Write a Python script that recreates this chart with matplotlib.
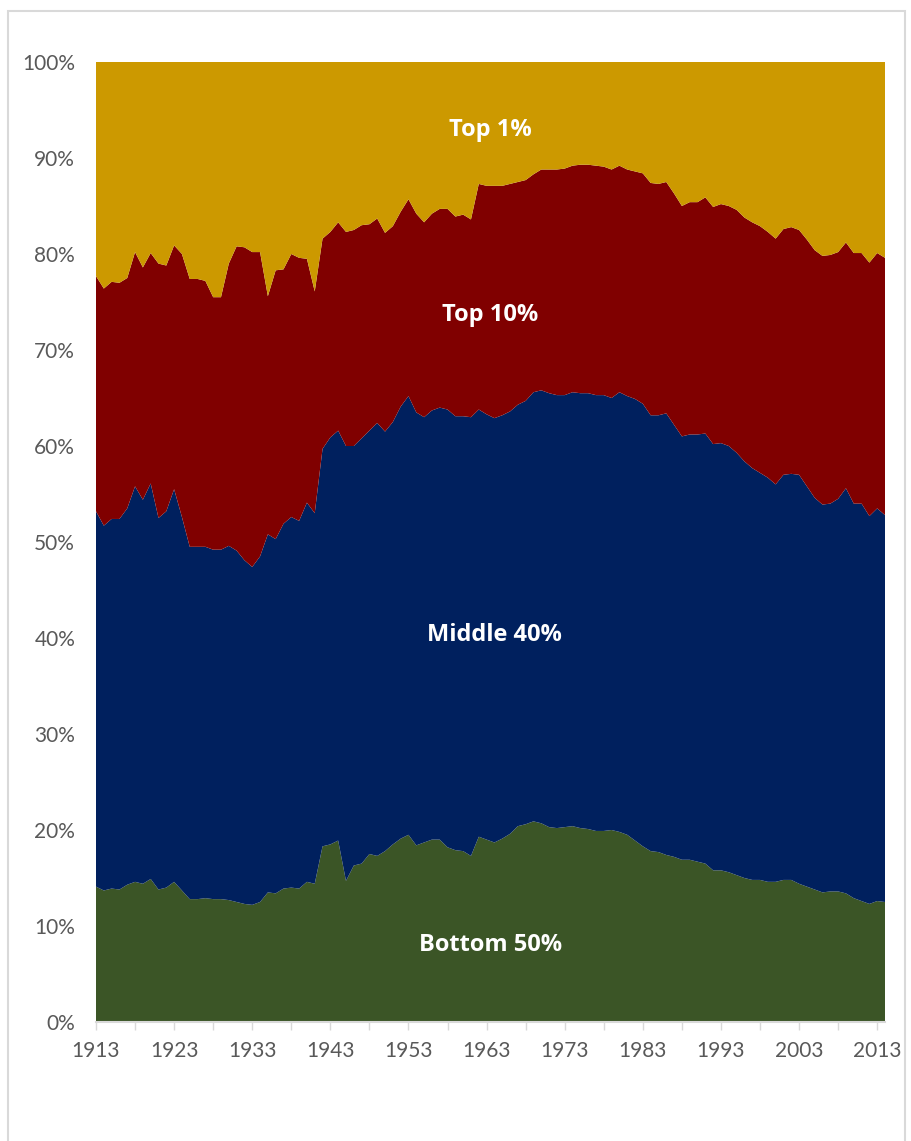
import numpy as np
import matplotlib
matplotlib.use("Agg")
import matplotlib.pyplot as plt
from matplotlib.patches import Rectangle
from matplotlib.ticker import FuncFormatter, MultipleLocator

# shares of income, %
years = list(range(1913, 2015))

bottom50 = [14.1, 13.7, 13.9, 13.8, 14.3, 14.6, 14.4, 14.9, 13.8, 14.0,
            14.6, 13.7, 12.8, 12.8, 12.9, 12.8, 12.8, 12.7, 12.5, 12.3,
            12.2, 12.5, 13.5, 13.4, 13.9, 14.0, 13.9, 14.6, 14.4, 18.3,
            18.5, 18.9, 14.7, 16.3, 16.5, 17.5, 17.3, 17.8, 18.5, 19.1,
            19.5, 18.4, 18.7, 19.0, 19.0, 18.2, 17.9, 17.8, 17.3, 19.3,
            19.0, 18.7, 19.1, 19.6, 20.4, 20.6, 20.9, 20.7, 20.3, 20.2,
            20.3, 20.4, 20.2, 20.1, 19.9, 19.9, 20.0, 19.8, 19.5, 18.9,
            18.3, 17.8, 17.7, 17.4, 17.2, 16.9, 16.9, 16.7, 16.5, 15.8,
            15.8, 15.6, 15.3, 15.0, 14.8, 14.8, 14.6, 14.6, 14.8, 14.8,
            14.4, 14.1, 13.8, 13.5, 13.6, 13.6, 13.4, 12.9, 12.6, 12.3,
            12.6, 12.5]

middle40 = [39.1, 38.0, 38.5, 38.6, 39.2, 41.2, 40.0, 41.2, 38.7, 39.2,
            40.9, 38.9, 36.7, 36.7, 36.6, 36.4, 36.4, 36.9, 36.6, 35.8,
            35.2, 36.0, 37.3, 36.9, 38.0, 38.6, 38.3, 39.5, 38.6, 41.4,
            42.4, 42.7, 45.3, 43.7, 44.3, 44.1, 45.1, 43.7, 44.0, 45.0,
            45.7, 45.1, 44.3, 44.7, 45.0, 45.6, 45.2, 45.3, 45.7, 44.5,
            44.3, 44.2, 44.1, 44.0, 43.9, 44.1, 44.7, 45.1, 45.2, 45.1,
            45.0, 45.2, 45.3, 45.4, 45.4, 45.4, 45.0, 45.8, 45.7, 46.0,
            46.1, 45.4, 45.5, 46.0, 45.0, 44.1, 44.3, 44.5, 44.8, 44.4,
            44.5, 44.4, 44.0, 43.4, 42.9, 42.4, 42.1, 41.4, 42.2, 42.3,
            42.6, 41.7, 40.8, 40.4, 40.4, 40.9, 42.2, 41.1, 41.4, 40.4,
            40.9, 40.3]

top10 = [24.5, 24.7, 24.7, 24.6, 24.0, 24.4, 24.2, 24.0, 26.5, 25.6,
         25.4, 27.4, 27.9, 27.9, 27.7, 26.3, 26.3, 29.4, 31.7, 32.6,
         32.8, 31.7, 24.8, 28.0, 26.5, 27.4, 27.4, 25.4, 23.1, 21.9,
         21.4, 21.7, 22.3, 22.5, 22.2, 21.5, 21.3, 20.7, 20.4, 20.3,
         20.5, 20.7, 20.3, 20.5, 20.7, 20.9, 20.8, 21.0, 20.6, 23.5,
         23.8, 24.2, 23.9, 23.7, 23.2, 23.0, 22.7, 23.0, 23.3, 23.5,
         23.6, 23.6, 23.8, 23.8, 23.9, 23.8, 23.8, 23.6, 23.6, 23.7,
         24.0, 24.2, 24.1, 24.1, 24.1, 24.0, 24.2, 24.2, 24.6, 24.7,
         24.9, 25.0, 25.3, 25.4, 25.6, 25.7, 25.6, 25.6, 25.6, 25.7,
         25.5, 25.7, 25.8, 25.9, 25.9, 25.7, 25.6, 26.1, 26.1, 26.4,
         26.6, 26.8]

top1 = [22.3, 23.6, 22.9, 23.0, 22.5, 19.8, 21.4, 19.9, 21.0, 21.2,
        19.1, 20.0, 22.6, 22.6, 22.8, 24.5, 24.5, 21.0, 19.2, 19.3,
        19.8, 19.8, 24.4, 21.7, 21.6, 20.0, 20.4, 20.5, 23.9, 18.4,
        17.7, 16.7, 17.7, 17.5, 17.0, 16.9, 16.3, 17.8, 17.1, 15.6,
        14.3, 15.8, 16.7, 15.8, 15.3, 15.3, 16.1, 15.9, 16.4, 12.7,
        12.9, 12.9, 12.9, 12.7, 12.5, 12.3, 11.7, 11.2, 11.2, 11.2,
        11.1, 10.8, 10.7, 10.7, 10.8, 10.9, 11.2, 10.8, 11.2, 11.4,
        11.6, 12.6, 12.7, 12.5, 13.7, 15.0, 14.6, 14.6, 14.1, 15.1,
        14.8, 15.0, 15.4, 16.2, 16.7, 17.1, 17.7, 18.4, 17.4, 17.2,
        17.5, 18.5, 19.6, 20.2, 20.1, 19.8, 18.8, 19.9, 19.9, 20.9,
        19.9, 20.4]

group_names = ["Bottom 50%", "Middle 40%", "Top 10%", "Top 1%"]
colors = ["#3b5526", "#00205e", "#800000", "#cc9900"]

fig = plt.figure(figsize=(9.12, 11.41), dpi=100)
fig.patches.append(Rectangle((8 / 912, -0.01), 897 / 912, 1.0, transform=fig.transFigure,
                             fill=False, edgecolor="#d9d9d9", linewidth=1.5))

ax = fig.add_axes([96 / 912, 1 - 1022 / 1141, 789 / 912, 960 / 1141])
ax.stackplot(years, bottom50, middle40, top10, top1, colors=colors, linewidth=0)

ax.set_xlim(1913, 2014)
ax.set_ylim(0, 100)

ax.set_xticks(range(1913, 2014, 10))
ax.set_xticks(range(1918, 2014, 10), minor=True)
ax.yaxis.set_major_locator(MultipleLocator(10))
ax.yaxis.set_major_formatter(FuncFormatter(lambda v, p: f"{v:.0f}%"))

for lab in ax.get_xticklabels() + ax.get_yticklabels():
    lab.set_family(["Lato", "DejaVu Sans"])
ax.tick_params(axis="x", which="both", direction="out", length=6, width=1,
               color="#d9d9d9", labelsize=15, labelcolor="#595959", pad=8)
ax.tick_params(axis="y", length=0, labelsize=15, labelcolor="#595959", pad=15)

for side in ["top", "right", "left"]:
    ax.spines[side].set_visible(False)
ax.spines["bottom"].set_color("#d9d9d9")
ax.spines["bottom"].set_linewidth(1.5)

label_pos = [(1963.5, 8.0), (1964, 40.3), (1963.5, 73.6), (1963.5, 92.9)]
for name, (xp, yp) in zip(group_names, label_pos):
    ax.text(xp, yp, name, color="white", fontsize=17, fontweight="bold",
            ha="center", va="center", family=["Open Sans", "DejaVu Sans"])

fig.savefig("out.png", dpi=100)
